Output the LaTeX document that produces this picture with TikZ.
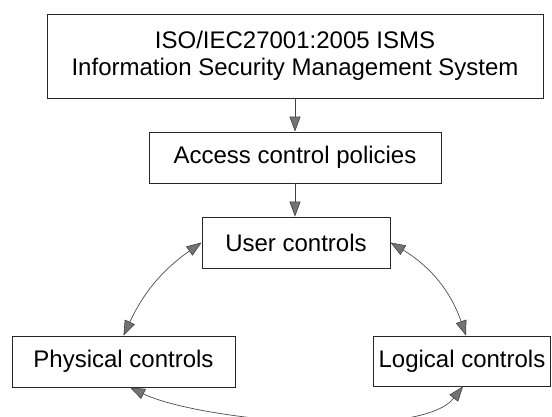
\documentclass[tikz,border=0pt]{standalone}
\usepackage{fontspec}
\setmainfont{Liberation Sans}
\usetikzlibrary{arrows.meta}
\tikzset{
  boxnode/.style={draw=black!85, line width=0.9pt, fill=white, inner sep=0pt,
    align=center, font=\fontsize{24}{27}\selectfont},
  headtip/.tip={Triangle[length=15pt,width=11pt,fill=black!55,color=black!75,line width=0.6pt]},
  onearrow/.style={draw=black!75, line width=0.7pt, -headtip},
  biarrow/.style={draw=black!70, line width=0.7pt, headtip-headtip}
}
\begin{document}
\begin{tikzpicture}[x=1pt,y=1pt]
\useasboundingbox (0,0) rectangle (552,416);
\clip (0,0) rectangle (552,416);
\node[boxnode, minimum width=496pt, minimum height=84pt] (title) at (295,360)
  {ISO/IEC27001:2005 ISMS\\Information Security Management System};
\node[boxnode, minimum width=292pt, minimum height=51pt] (access) at (295,258.5)
  {Access control policies};
\node[boxnode, minimum width=188pt, minimum height=51pt] (user) at (296,173.5)
  {User controls};
\node[boxnode, minimum width=223pt, minimum height=51pt] (phys) at (123.5,54.5)
  {Physical controls};
\node[boxnode, minimum width=177pt, minimum height=50pt] (logic) at (462,55)
  {Logical controls};
\draw[onearrow] (title.south) -- (access.north);
\draw[onearrow] (access.south) -- (access.south |- user.north);
\draw[biarrow] (user.west) to[bend right=15] (phys.north);
\draw[biarrow] (user.east) to[bend left=20] ([xshift=4pt]logic.north);
\coordinate (c1) at (200,-5);
\coordinate (c2) at (420,-25);
\draw[biarrow] ([xshift=6.5pt]phys.south) .. controls (c1) and (c2) .. ([xshift=1pt]logic.south);
\end{tikzpicture}
\end{document}
